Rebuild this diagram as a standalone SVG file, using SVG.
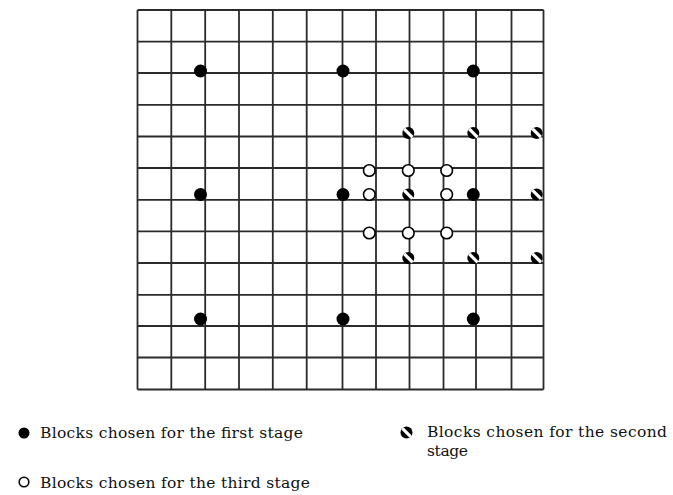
<svg xmlns="http://www.w3.org/2000/svg" width="673" height="495" viewBox="0 0 673 495">
<style>
.grid line{stroke:#2b2b2b;stroke-width:1.8}
.b{fill:#000}
.w{fill:#fff;stroke:#000;stroke-width:1.6}
.t{font-family:"DejaVu Serif","Liberation Serif",serif;font-size:15.5px;fill:#111}
</style>
<defs>
<clipPath id="hc"><circle cx="0" cy="0" r="6"/></clipPath>
<g id="hatch">
<circle cx="0" cy="0" r="6" fill="#000"/>
<rect x="-8" y="-1.6" width="16" height="3.2" fill="#fff" transform="rotate(45)" clip-path="url(#hc)"/>
</g>
</defs>
<rect width="673" height="495" fill="#fff"/>
<g id="grid" class="grid">
<line x1="137.5" y1="10" x2="137.5" y2="389.5"/>
<line x1="171.3" y1="10" x2="171.3" y2="389.5"/>
<line x1="205.2" y1="10" x2="205.2" y2="389.5"/>
<line x1="239" y1="10" x2="239" y2="389.5"/>
<line x1="272.8" y1="10" x2="272.8" y2="389.5"/>
<line x1="306.7" y1="10" x2="306.7" y2="389.5"/>
<line x1="342.5" y1="10" x2="342.5" y2="389.5"/>
<line x1="376" y1="10" x2="376" y2="389.5"/>
<line x1="409.5" y1="10" x2="409.5" y2="389.5"/>
<line x1="443.5" y1="10" x2="443.5" y2="389.5"/>
<line x1="476" y1="10" x2="476" y2="389.5"/>
<line x1="511.5" y1="10" x2="511.5" y2="389.5"/>
<line x1="543.5" y1="10" x2="543.5" y2="389.5"/>
<line x1="137.5" y1="10" x2="543.5" y2="10"/>
<line x1="137.5" y1="41.6" x2="543.5" y2="41.6"/>
<line x1="137.5" y1="73" x2="543.5" y2="73"/>
<line x1="137.5" y1="104.8" x2="543.5" y2="104.8"/>
<line x1="137.5" y1="136.5" x2="543.5" y2="136.5"/>
<line x1="137.5" y1="168" x2="543.5" y2="168"/>
<line x1="137.5" y1="199.8" x2="543.5" y2="199.8"/>
<line x1="137.5" y1="231.4" x2="543.5" y2="231.4"/>
<line x1="137.5" y1="263" x2="543.5" y2="263"/>
<line x1="137.5" y1="294.8" x2="543.5" y2="294.8"/>
<line x1="137.5" y1="326" x2="543.5" y2="326"/>
<line x1="137.5" y1="357.5" x2="543.5" y2="357.5"/>
<line x1="137.5" y1="389.5" x2="543.5" y2="389.5"/>
</g>
<g id="first-stage">
<circle class="b" cx="200.5" cy="71" r="6.5"/>
<circle class="b" cx="343" cy="71" r="6.5"/>
<circle class="b" cx="473.3" cy="71" r="6.5"/>
<circle class="b" cx="200.5" cy="194.5" r="6.5"/>
<circle class="b" cx="343" cy="194.5" r="6.5"/>
<circle class="b" cx="473.3" cy="194.5" r="6.5"/>
<circle class="b" cx="200.5" cy="319" r="6.5"/>
<circle class="b" cx="343" cy="319" r="6.5"/>
<circle class="b" cx="473.3" cy="319" r="6.5"/>
</g>
<g id="second-stage">
<use href="#hatch" x="408.3" y="133"/>
<use href="#hatch" x="473.3" y="133"/>
<use href="#hatch" x="536.7" y="133"/>
<use href="#hatch" x="408.3" y="194.5"/>
<use href="#hatch" x="536.7" y="194.5"/>
<use href="#hatch" x="408.3" y="258"/>
<use href="#hatch" x="473.3" y="258"/>
<use href="#hatch" x="536.7" y="258"/>
</g>
<g id="third-stage">
<circle class="w" cx="369.3" cy="170.5" r="5.8"/>
<circle class="w" cx="408.3" cy="170.5" r="5.8"/>
<circle class="w" cx="446.7" cy="170.5" r="5.8"/>
<circle class="w" cx="369.3" cy="194.5" r="5.8"/>
<circle class="w" cx="446.7" cy="194.5" r="5.8"/>
<circle class="w" cx="369.3" cy="233" r="5.8"/>
<circle class="w" cx="408.3" cy="233" r="5.8"/>
<circle class="w" cx="446.7" cy="233" r="5.8"/>
</g>
<g id="legend-first">
<circle class="b" cx="24" cy="433" r="5.5"/>
<text class="t" x="40" y="438" textLength="263">Blocks chosen for the first stage</text>
</g>
<g id="legend-second">
<use href="#hatch" x="406.5" y="432.5"/>
<text class="t" x="427" y="437" textLength="240">Blocks chosen for the second</text>
<text class="t" x="427" y="456" textLength="41">stage</text>
</g>
<g id="legend-third">
<circle class="w" cx="24" cy="482" r="4.8"/>
<text class="t" x="40" y="488" textLength="270">Blocks chosen for the third stage</text>
</g>
</svg>
